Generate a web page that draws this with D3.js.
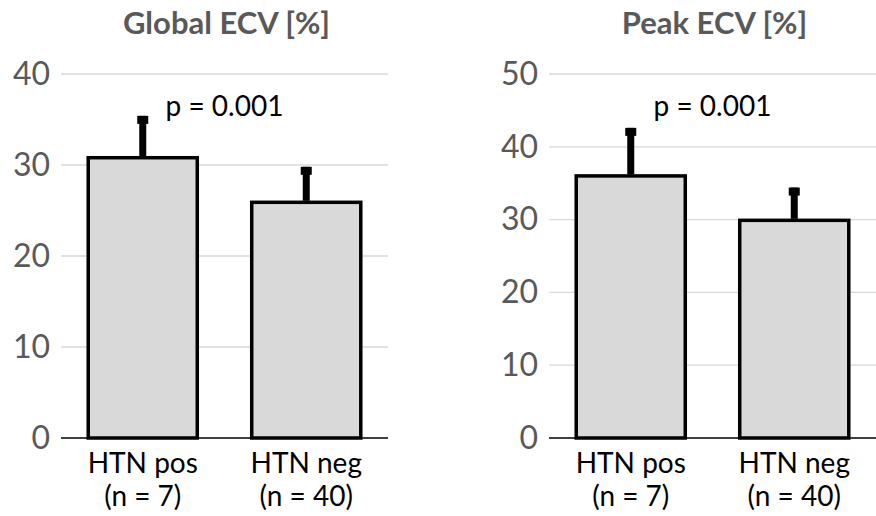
<!DOCTYPE html>
<html><head><meta charset="utf-8">
<script src="https://cdn.jsdelivr.net/npm/d3@7"></script>
<style>
body{margin:0;background:#fff;}
text{font-family:Lato,"Open Sans",sans-serif;}
</style></head>
<body><svg id="c" width="876" height="516"></svg>
<script>
const categories = ["HTN pos", "HTN neg"];
const groupSizes = ["(n = 7)", "(n = 40)"];
const titles = ["Global ECV [%]", "Peak ECV [%]"];
const globalMean = [30.8, 25.9];
const globalUpper = [35.4, 29.8];
const peakMean = [36.0, 29.9];
const peakUpper = [42.6, 34.4];
const globalTicks = [0, 10, 20, 30, 40];
const peakTicks = [0, 10, 20, 30, 40, 50];
const pLabels = ["p = 0.001", "p = 0.001"];

const FONT = 'Lato,"Open Sans",sans-serif';
const svg = d3.select("#c");
const panels = [
  {title: titles[0], mean: globalMean, upper: globalUpper, ticks: globalTicks, max: 40, x0: 61, x1: 388, p: pLabels[0]},
  {title: titles[1], mean: peakMean, upper: peakUpper, ticks: peakTicks, max: 50, x0: 549, x1: 876, p: pLabels[1]}
];
const yTop = 74, yBot = 438;

panels.forEach(pn => {
  const g = svg.append("g");
  const y = d3.scaleLinear().domain([0, pn.max]).range([yBot, yTop]);
  const x = d3.scaleBand().domain(categories).range([pn.x0, pn.x1]).paddingInner(0.333).paddingOuter(0.1665);

  g.selectAll(".grid").data(pn.ticks.filter(t => t > 0)).enter().append("line")
    .attr("x1", pn.x0).attr("x2", pn.x1)
    .attr("y1", d => y(d)).attr("y2", d => y(d))
    .attr("stroke", "#d9d9d9").attr("stroke-width", 1.3);

  const ax = d3.axisLeft(y).tickValues(pn.ticks).tickSize(0).tickPadding(11);
  const axg = g.append("g").attr("transform", `translate(${pn.x0},0)`).call(ax);
  axg.select(".domain").remove();
  axg.selectAll("text").attr("font-size", 32).attr("fill", "#595959")
    .style("font-family", FONT);

  g.selectAll(".bar").data(categories).enter().append("rect")
    .attr("x", d => x(d)).attr("width", x.bandwidth())
    .attr("y", (d, i) => y(pn.mean[i])).attr("height", (d, i) => y(0) - y(pn.mean[i]))
    .attr("fill", "#d9d9d9").attr("stroke", "#000").attr("stroke-width", 3.5);

  g.selectAll(".err").data(categories).enter().append("line")
    .attr("x1", d => x(d) + x.bandwidth() / 2).attr("x2", d => x(d) + x.bandwidth() / 2)
    .attr("y1", (d, i) => y(pn.mean[i]) - 1.5).attr("y2", (d, i) => y(pn.upper[i]))
    .attr("stroke", "#000").attr("stroke-width", 7);
  g.selectAll(".cap").data(categories).enter().append("rect")
    .attr("x", d => x(d) + x.bandwidth() / 2 - 5.5).attr("width", 11)
    .attr("y", (d, i) => y(pn.upper[i])).attr("height", 8)
    .attr("fill", "#000");

  g.append("line").attr("x1", pn.x0).attr("x2", pn.x1)
    .attr("y1", y(0)).attr("y2", y(0)).attr("stroke", "#000").attr("stroke-width", 1.5);

  const xa = d3.axisBottom(x).tickSize(0).tickPadding(0);
  const xg = g.append("g").attr("transform", `translate(0,${yBot})`).call(xa);
  xg.select(".domain").remove();
  xg.selectAll("text").remove();
  xg.selectAll(".tick").each(function(d, i) {
    const t = d3.select(this).append("text").attr("text-anchor", "middle")
      .attr("font-size", 28).attr("fill", "#000").style("font-family", FONT);
    t.append("tspan").attr("x", 0).attr("y", 35).text(d);
    t.append("tspan").attr("x", 0).attr("y", 68).text(groupSizes[i]);
  });

  const cx = (pn.x0 + pn.x1) / 2;
  g.append("text").attr("x", cx + 2).attr("y", 34).attr("text-anchor", "middle")
    .attr("font-size", 31).attr("font-weight", "bold").attr("fill", "#595959").text(pn.title);

  g.append("text").attr("x", cx).attr("y", 116).attr("text-anchor", "middle")
    .attr("font-size", 28).attr("fill", "#000").text(pn.p);
});
</script></body></html>
